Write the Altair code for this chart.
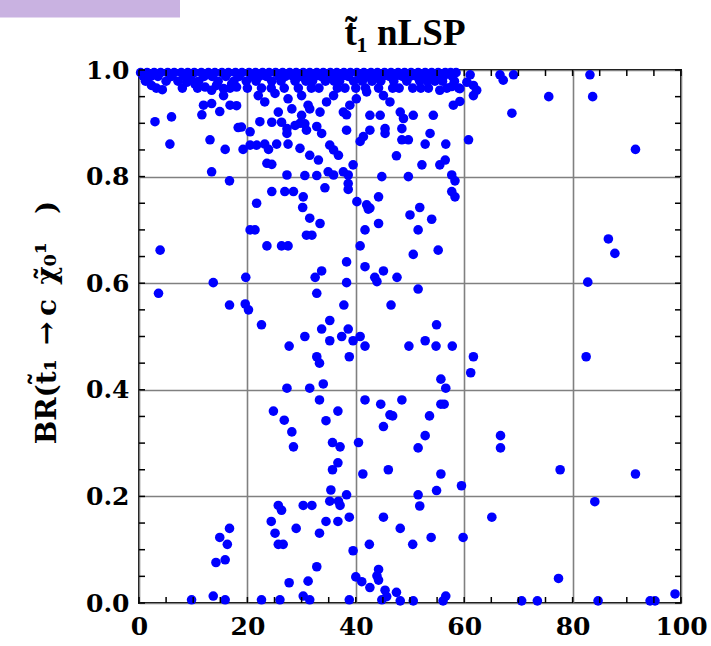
import altair as alt
import pandas as pd

# Dense band at the top (BR close to 1)
band1_x = [0.3, 1.5, 2.8, 4.0, 5.3, 6.5, 7.8, 9.0, 10.2, 11.5, 12.8, 14.0, 15.3, 16.5, 17.8, 19.0,
           20.3, 21.5, 22.8, 24.0, 25.2, 26.5, 27.8, 29.0, 30.3, 31.5, 32.8, 34.0, 35.3, 36.5, 37.8,
           39.0, 40.2, 41.5, 42.8, 44.0, 45.3, 46.5, 47.8, 49.0, 50.2, 51.5, 52.8, 54.0, 55.2, 56.5,
           57.5, 58.5]
band1_y = [0.995] * len(band1_x)
band2_x = [0.8, 2.2, 3.5, 6.0, 8.4, 9.6, 12.0, 13.5, 16.0, 18.5, 20.8, 22.2, 23.5, 25.8, 27.0, 28.4,
           29.8, 31.0, 32.5, 33.6, 35.0, 36.2, 37.4, 38.6, 40.8, 42.2, 43.6, 45.0, 46.2, 47.3, 48.6,
           50.0, 51.2, 52.5, 53.6, 55.0, 56.2, 57.8]
band2_y = [0.988] * len(band2_x)
band3_x = [1.2, 5.0, 7.2, 11.0, 14.6, 17.5, 19.8, 21.6, 24.5, 26.2, 28.8, 30.8, 32.0, 34.4, 36.0,
           37.0, 39.6, 41.2, 43.0, 44.6, 47.0, 49.4, 51.8, 53.2, 54.6, 56.0, 58.2]
band3_y = [0.979] * len(band3_x)
band4_x = [3.2, 8.0, 10.8, 16.8, 20.0, 22.6, 24.4, 26.8, 29.4, 31.8, 33.2, 36.6, 38.0, 40.0, 41.8,
           44.2, 46.8, 48.0, 50.5, 52.0, 53.4, 56.8, 59.0]
band4_y = [0.966] * len(band4_x)

# Scattered points
upper_x = [2.3, 4.3, 8.8, 10.3, 12.2, 13.4, 14.3, 15.6, 15.6, 17.1, 18.0, 11.9, 11.6, 13.4, 14.9,
           16.8, 18.0, 2.95, 6.0, 18.3, 13.1, 5.7, 15.9, 19.2, 20.5, 20.5, 18.9, 22.0, 23.2, 25.1,
           25.7, 27.5, 28.2, 30.0, 30.0, 31.2, 30.6, 24.5, 26.3, 28.8, 22.3, 27.3, 27.3, 29.7, 30.9,
           32.8, 33.7, 31.5, 33.4, 34.6, 35.9, 37.7, 38.9, 40.1, 42.0, 42.6, 44.5, 45.1, 46.3, 48.2,
           48.8, 50.6, 54.3, 55.5, 58.0, 59.2, 60.5, 61.7, 61.7, 38.3, 38.3, 40.8, 41.4, 42.6, 45.4,
           61.1, 66.6, 67.2, 69.1, 83.2, 62.3, 59.2, 57.7, 75.6, 83.7, 68.8, 91.6, 60.8]
upper_y = [0.971, 0.963, 0.977, 0.974, 0.968, 0.962, 0.971, 0.965, 0.952, 0.974, 0.968, 0.934,
           0.916, 0.937, 0.922, 0.934, 0.933, 0.903, 0.912, 0.892, 0.869, 0.861, 0.851, 0.851,
           0.859, 0.884, 0.893, 0.952, 0.940, 0.956, 0.921, 0.946, 0.927, 0.952, 0.915, 0.934,
           0.899, 0.902, 0.902, 0.896, 0.903, 0.890, 0.881, 0.900, 0.887, 0.894, 0.881, 0.927,
           0.921, 0.940, 0.952, 0.921, 0.934, 0.946, 0.959, 0.915, 0.915, 0.952, 0.940, 0.921,
           0.909, 0.915, 0.915, 0.962, 0.934, 0.965, 0.977, 0.971, 0.952, 0.887, 0.916, 0.866,
           0.875, 0.887, 0.890, 0.991, 0.991, 0.981, 0.991, 0.991, 0.962, 0.941, 0.969, 0.950,
           0.950, 0.919, 0.851, 0.869]

mid_x = [48.5, 45.4, 53.7, 48.5, 49.7, 52.8, 56.6, 47.5, 52.2, 55.5, 56.5, 44.8, 49.7, 57.7, 58.3,
         57.7, 58.3, 44.2, 42.6, 51.8, 50.0, 54.0, 44.2, 51.5, 55.2, 50.6, 86.6, 87.8, 23.6, 24.5,
         13.4, 16.7, 27.3, 30.6, 32.8, 34.9, 35.9, 37.7, 38.6, 39.5, 38.6, 38.6, 34.3, 24.5, 26.9,
         28.5, 30.3, 30.2, 21.7, 40.2, 42.0, 42.3, 31.5, 33.4, 20.5, 21.4, 30.9, 31.9, 41.7, 3.9,
         23.6, 26.3, 27.5, 40.8, 21.7, 23.2, 23.9, 25.4, 27.5, 29.7, 31.5, 33.1, 35.2, 35.9, 36.8]
mid_y = [0.890, 0.881, 0.881, 0.869, 0.869, 0.861, 0.861, 0.839, 0.822, 0.822, 0.831, 0.800,
         0.800, 0.803, 0.792, 0.772, 0.762, 0.762, 0.741, 0.742, 0.728, 0.720, 0.712, 0.700,
         0.662, 0.654, 0.683, 0.656, 0.825, 0.823, 0.809, 0.792, 0.803, 0.802, 0.802, 0.809,
         0.803, 0.809, 0.803, 0.822, 0.787, 0.776, 0.779, 0.772, 0.772, 0.772, 0.762, 0.742,
         0.750, 0.753, 0.747, 0.739, 0.722, 0.712, 0.700, 0.700, 0.690, 0.690, 0.700, 0.662,
         0.670, 0.670, 0.670, 0.670, 0.859, 0.861, 0.851, 0.861, 0.861, 0.853, 0.840, 0.831,
         0.859, 0.850, 0.840]

low_x = [38.3, 41.7, 43.5, 43.9, 45.1, 33.7, 32.5, 38.3, 13.7, 19.7, 3.6, 32.8, 16.7, 19.6, 20.2,
         37.8, 46.5, 22.6, 35.2, 33.7, 38.6, 37.4, 35.2, 39.5, 40.8, 41.7, 30.6, 27.7, 32.8, 33.3,
         38.8, 27.3, 31.5, 34.0, 33.3, 24.8, 36.7, 26.8, 34.5, 28.2, 41.7, 44.6, 45.1, 46.3, 47.6,
         51.5, 54.9, 49.8, 52.8, 54.8, 57.8, 61.7, 61.2, 82.5, 82.8, 55.7, 56.6, 48.5, 55.7, 56.3,
         46.8, 53.6, 52.8, 66.7]
low_y = [0.640, 0.631, 0.611, 0.603, 0.623, 0.623, 0.611, 0.601, 0.601, 0.611, 0.581, 0.581,
         0.559, 0.561, 0.550, 0.559, 0.559, 0.522, 0.530, 0.514, 0.514, 0.500, 0.492, 0.492,
         0.500, 0.482, 0.500, 0.482, 0.462, 0.450, 0.462, 0.403, 0.403, 0.411, 0.381, 0.360,
         0.360, 0.343, 0.342, 0.321, 0.381, 0.373, 0.331, 0.353, 0.611, 0.589, 0.522, 0.482,
         0.492, 0.482, 0.482, 0.462, 0.432, 0.462, 0.602, 0.420, 0.403, 0.381, 0.373, 0.373,
         0.351, 0.351, 0.314, 0.314]

bottom_x = [28.5, 35.7, 37.1, 36.7, 35.7, 40.5, 41.3, 46.0, 35.4, 35.2, 36.8, 37.1, 38.3, 25.7,
            26.3, 30.3, 31.9, 24.4, 25.1, 25.7, 26.6, 29.0, 33.3, 34.5, 36.7, 38.8, 45.1, 16.7,
            14.9, 16.3, 14.2, 15.9, 32.8, 31.2, 27.7, 39.5, 42.5, 40.0, 41.1, 42.6, 44.2, 43.9,
            44.2, 45.4, 45.7, 9.7, 13.7, 15.9, 22.6, 26.0, 30.3, 31.5, 38.8, 44.8, 51.5, 66.7,
            55.7, 77.7, 91.6, 59.5, 54.9, 51.5, 51.8, 84.1, 48.2, 65.1, 53.9, 59.8, 50.5, 77.4,
            47.5, 56.6, 98.9, 48.2, 50.6, 56.1, 70.6, 73.5, 84.7, 94.3, 95.2]
bottom_y = [0.293, 0.301, 0.293, 0.263, 0.250, 0.301, 0.242, 0.250, 0.212, 0.191, 0.191, 0.183,
            0.203, 0.183, 0.174, 0.183, 0.183, 0.153, 0.131, 0.110, 0.110, 0.140, 0.131, 0.153,
            0.153, 0.161, 0.161, 0.140, 0.123, 0.110, 0.076, 0.081, 0.068, 0.041, 0.038, 0.098,
            0.110, 0.049, 0.040, 0.029, 0.063, 0.051, 0.043, 0.024, 0.012, 0.006, 0.013, 0.006,
            0.006, 0.006, 0.013, 0.006, 0.006, 0.006, 0.291, 0.291, 0.242, 0.250, 0.242, 0.220,
            0.211, 0.203, 0.182, 0.190, 0.140, 0.161, 0.123, 0.123, 0.110, 0.046, 0.020, 0.013,
            0.017, 0.004, 0.004, 0.004, 0.004, 0.004, 0.004, 0.004, 0.004]

x_ticks = [0, 5, 10, 15, 20, 25, 30, 35, 40, 45, 50, 55, 60, 65, 70, 75, 80, 85, 90, 95, 100]
y_ticks = [0.0, 0.05, 0.1, 0.15, 0.2, 0.25, 0.3, 0.35, 0.4, 0.45, 0.5, 0.55, 0.6, 0.65, 0.7,
           0.75, 0.8, 0.85, 0.9, 0.95, 1.0]

title_text = "t̃₁ nLSP"
y_title = "BR(t̃₁\u2002→\u2009c\u2002χ̃₀¹\u2002\u2002)"

all_x = band1_x + band2_x + band3_x + band4_x + upper_x + mid_x + low_x + bottom_x
all_y = band1_y + band2_y + band3_y + band4_y + upper_y + mid_y + low_y + bottom_y
pts = pd.DataFrame({"m": all_x, "br": all_y})

W, H = 542, 533
xs = alt.Scale(domain=[0, 100], nice=False, zero=False)
ys = alt.Scale(domain=[0, 1], nice=False, zero=False)

SERIF = "DejaVu Serif"

points = alt.Chart(pts).mark_circle(size=92, color="#0000ff", opacity=1).encode(
    x=alt.X("m:Q", scale=xs, axis=alt.Axis(
        values=[0, 20, 40, 60, 80, 100], title=None, labelFlush=False, labelOverlap=False,
        labelPadding=11, grid=True)),
    y=alt.Y("br:Q", scale=ys, axis=alt.Axis(
        values=[0, 0.2, 0.4, 0.6, 0.8, 1.0], format=".1f", labelFlush=False, labelOverlap=False,
        labelPadding=10, grid=True,
        title=y_title, titleAngle=270, titleX=-92, titleY=252,
        titleAlign="center", titleBaseline="middle",
        titleFont=SERIF, titleFontSize=28, titleFontWeight="bold", titleColor="black")),
)

xt = pd.DataFrame({"m": x_ticks})
yt = pd.DataFrame({"br": y_ticks})
tick_bottom = alt.Chart(xt).mark_rule(color="black", strokeWidth=1.5).encode(
    x=alt.X("m:Q", scale=xs), y=alt.value(H), y2=alt.value(H - 6))
tick_top = alt.Chart(xt).mark_rule(color="black", strokeWidth=1.5).encode(
    x=alt.X("m:Q", scale=xs), y=alt.value(0), y2=alt.value(6))
tick_left = alt.Chart(yt).mark_rule(color="black", strokeWidth=1.5).encode(
    y=alt.Y("br:Q", scale=ys), x=alt.value(0), x2=alt.value(6))
tick_right = alt.Chart(yt).mark_rule(color="black", strokeWidth=1.5).encode(
    y=alt.Y("br:Q", scale=ys), x=alt.value(W), x2=alt.value(W - 6))

one = pd.DataFrame({"a": [0]})
badge = alt.Chart(one).mark_rect(color="#c9b2e1").encode(
    x=alt.value(-139), x2=alt.value(41), y=alt.value(-70), y2=alt.value(-52.5))
title_mark = alt.Chart(one).mark_text(
    text=title_text, font="Liberation Serif", fontSize=37, fontWeight="bold",
    align="center", baseline="alphabetic", color="black").encode(
    x=alt.value(266), y=alt.value(-25))

chart = alt.layer(badge, points, tick_bottom, tick_top, tick_left, tick_right, title_mark).properties(
    width=W, height=H,
    background="white",
    autosize=alt.AutoSizeParams(type="none"),
    padding={"left": 139, "top": 70, "right": 30, "bottom": 43},
).configure_view(stroke="black", strokeWidth=2).configure_axis(
    domain=False, ticks=False, gridColor="#808080", gridWidth=1.6, gridOpacity=1,
    labelFont=SERIF, labelFontSize=25, labelFontWeight="bold", labelColor="black",
)

chart.save("out.html", embed_options={"renderer": "svg", "actions": False})
